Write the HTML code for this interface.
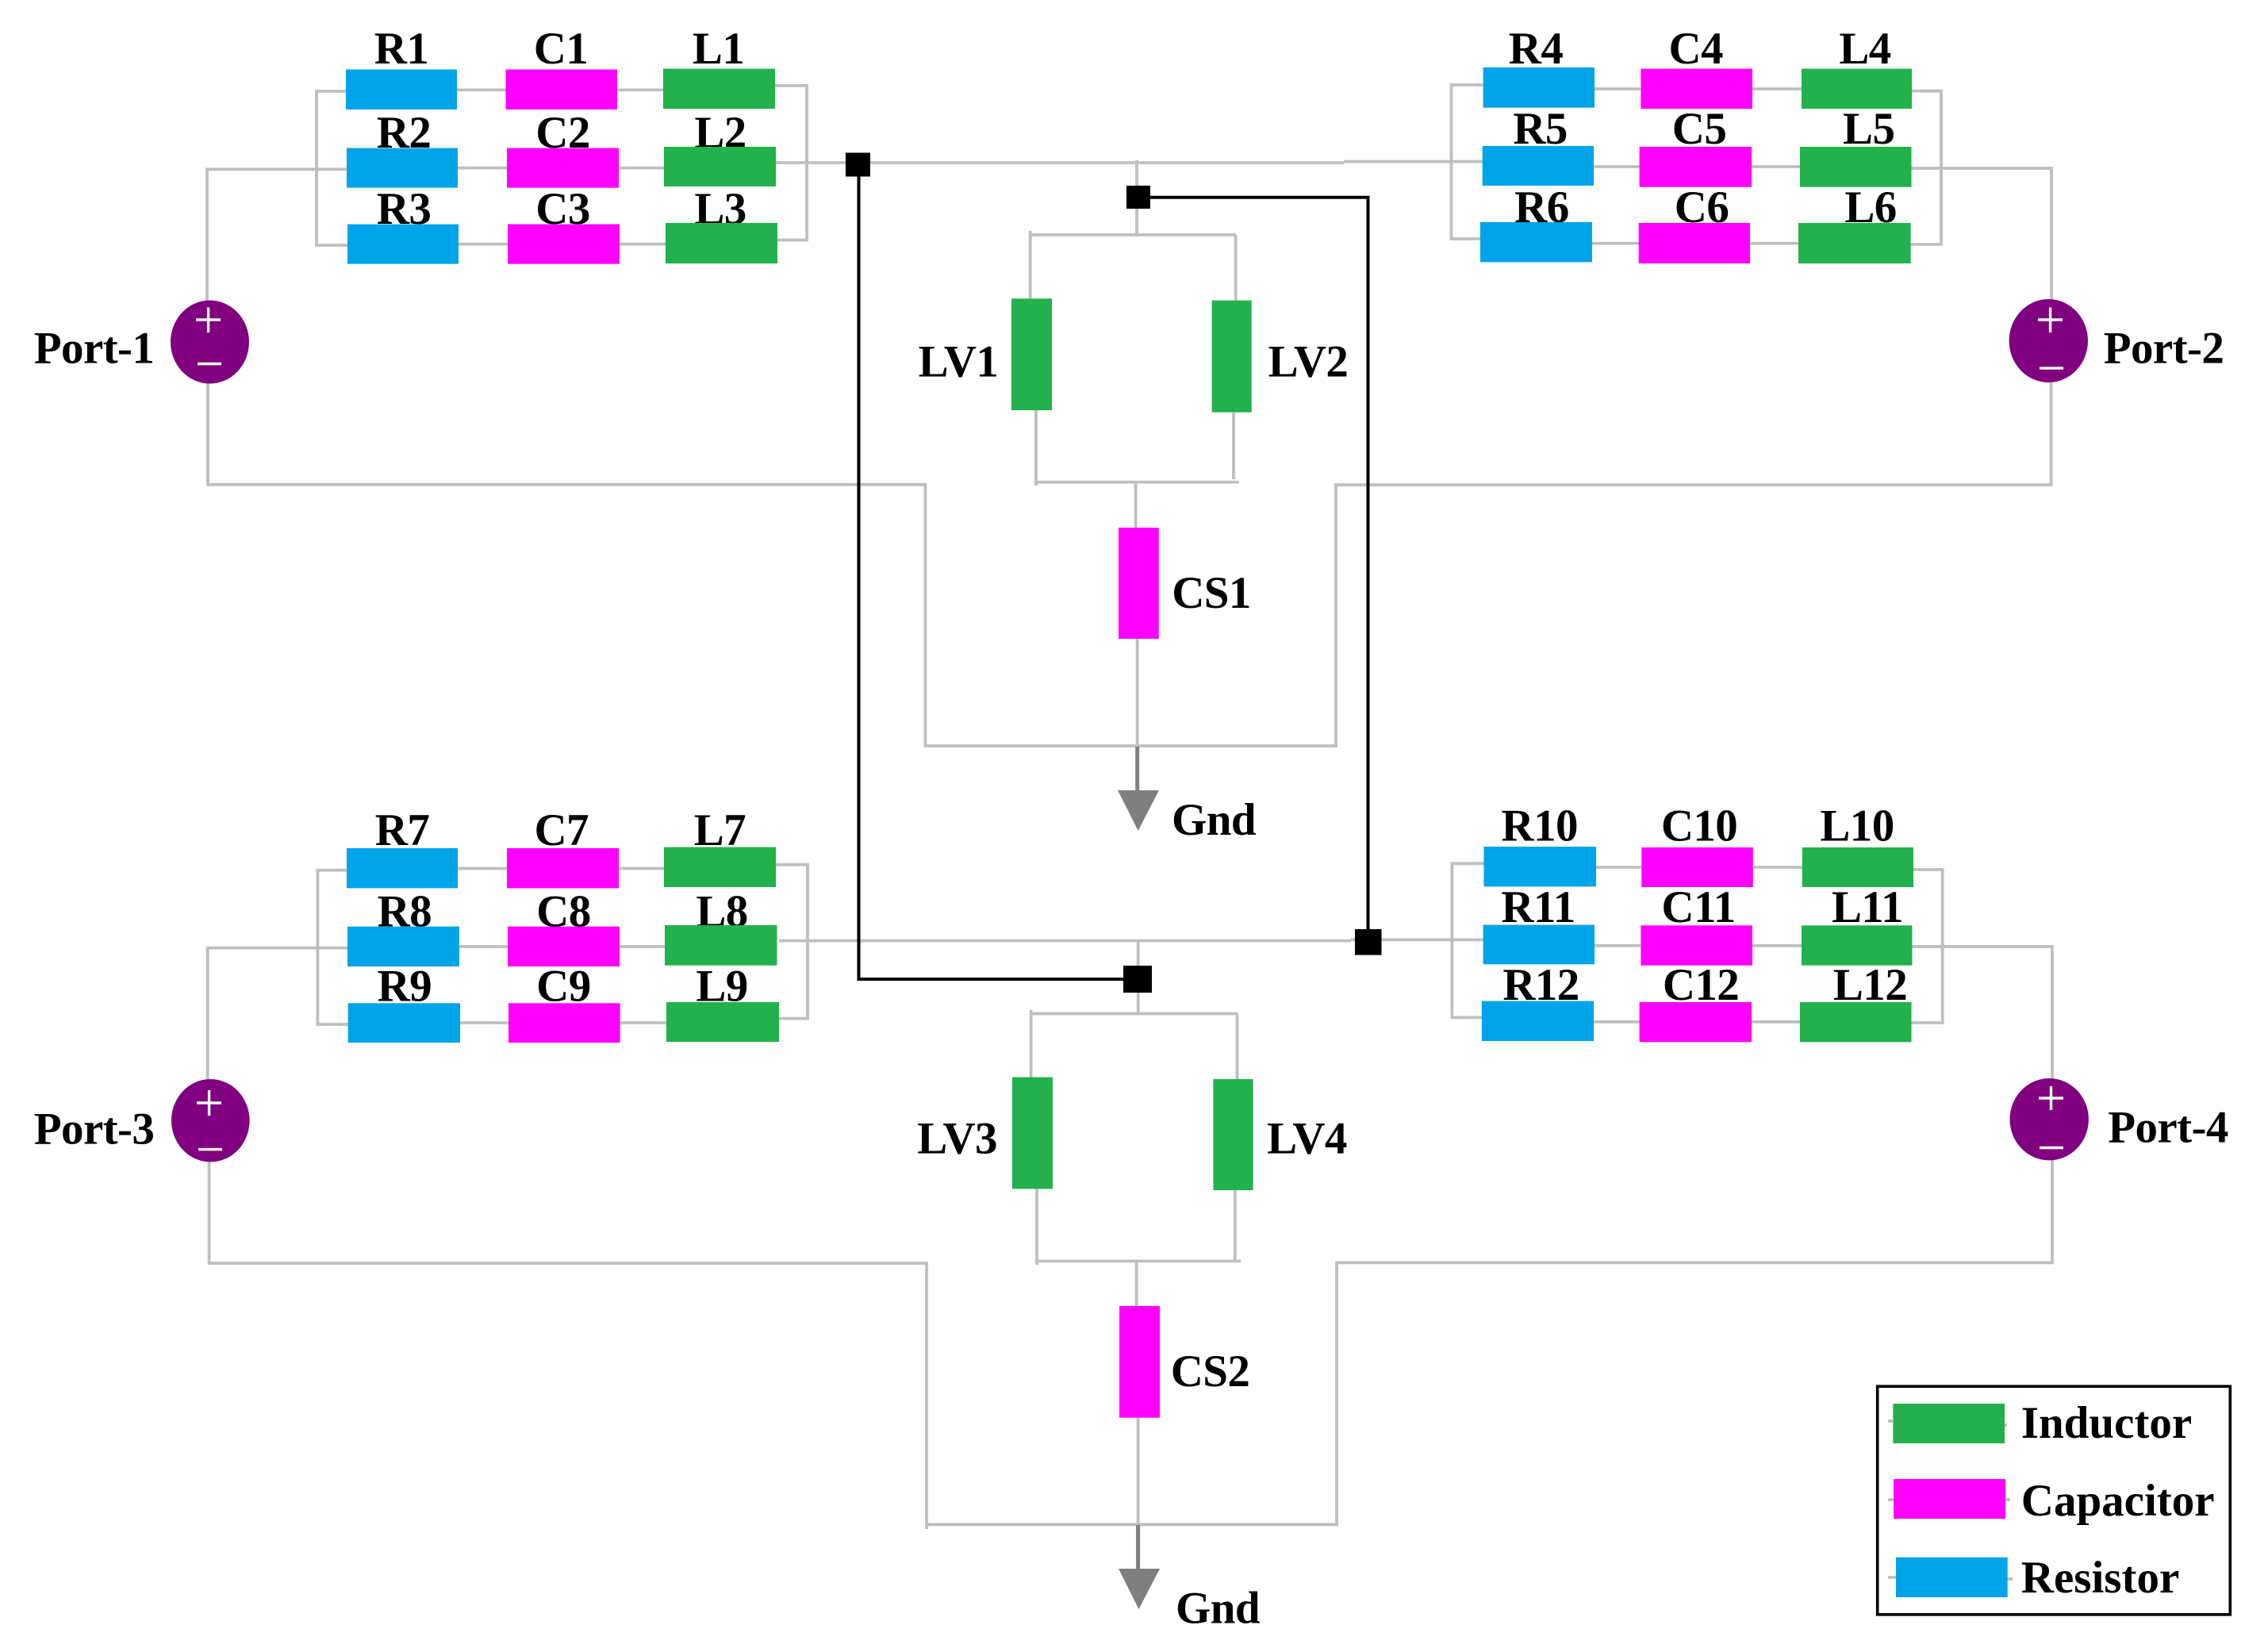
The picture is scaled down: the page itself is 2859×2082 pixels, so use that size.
<!DOCTYPE html>
<html>
<head>
<meta charset="utf-8">
<style>
html,body{margin:0;padding:0;background:#fff;width:2859px;height:2082px;overflow:hidden}
svg{display:block}
text{font-family:"Liberation Serif",serif;font-weight:bold;font-size:57px;letter-spacing:-0.6px;fill:#000;text-anchor:middle}
.leg{font-size:57px;letter-spacing:0;text-anchor:start}
.w{fill:none;stroke:#bfbfbf;stroke-width:3.8}
.k{fill:none;stroke:#000;stroke-width:4}
.r{fill:#00a4e8}.c{fill:#ff00ff}.l{fill:#22b14c}.p{fill:#800080}.s{fill:#000}
.pm{fill:none;stroke:#fff;stroke-width:3.4}
</style>
</head>
<body>
<svg width="2859" height="2082" viewBox="0 0 2859 2082" xmlns="http://www.w3.org/2000/svg">
<rect width="2859" height="2082" fill="#fff"/>

<!-- Wires: top-left block -->
<path class="w" d="M436 115H399V309H438M977 108H1017V302.5H980M576 113.4H638M778 113.4H836M577 211.6H639M780 211.6H837M578 307.6H640M781 307.6H839"/>
<path class="w" d="M437 213.4H261V379M262 483V610.7H1166.5V940H1686M1684 940V611H2585.5V482"/>
<path class="w" d="M978 205H1694M1694 203.6H1869"/>
<!-- Top-right block -->
<path class="w" d="M1870 107H1829.5V301H1866M2410 114.7H2447V308H2408M2010 112H2068M2209 112H2271M2009 210H2067M2208 210H2269M2007 306.7H2066M2206 306.7H2267"/>
<path class="w" d="M2409 212H2586V378"/>
<!-- Upper center -->
<path class="w" d="M1433 202V296M1298.7 291V296H1558M1298.7 296V376M1557.7 296V379M1306 517V612M1304 607.6H1562M1555 520V604M1431.6 607V665M1433.7 805V940"/>
<!-- Lower-left block -->
<path class="w" d="M437 1096.6H400.4V1291H439M978 1089.7H1018V1283.6H982M577 1094.5H639M780 1094.5H837M579 1193H640M781 1193H838M580 1289H641M781.6 1289H840"/>
<path class="w" d="M438 1194.6H261.7V1360M263.6 1464V1592H1168V1927M1168 1921.3H1687M1685 1921.3V1591.4H2587V1462"/>
<path class="w" d="M982 1185.6H1703M1703 1184.3H1870"/>
<!-- Lower-right block -->
<path class="w" d="M1870.5 1088.3H1830.4V1282.3H1868M2412 1096H2448.7V1289H2409.5M2012 1093H2069M2210 1093H2272M2010 1191.9H2068M2209 1191.9H2271M2009 1287.8H2067M2208 1287.8H2269"/>
<path class="w" d="M2410 1193H2587V1360"/>
<!-- Lower center -->
<path class="w" d="M1434.7 1184V1279M1299.6 1273V1277.5H1560M1299.6 1277.5V1358M1559.5 1277.5V1360M1307 1498V1594M1305 1589.4H1564M1556.8 1500V1589M1432.7 1589V1646M1434.6 1786V1921"/>

<!-- Labels -->
<text x="506" y="80">R1</text><text x="707" y="80">C1</text><text x="905.6" y="80">L1</text>
<text x="509" y="186">R2</text><text x="709.5" y="186">C2</text><text x="908" y="186">L2</text>
<text x="509" y="282">R3</text><text x="709.5" y="282">C3</text><text x="908" y="282">L3</text>
<text x="1936" y="80">R4</text><text x="2137.7" y="80">C4</text><text x="2351" y="80">L4</text>
<text x="1941.6" y="181">R5</text><text x="2142" y="181">C5</text><text x="2355.7" y="181">L5</text>
<text x="1943.4" y="280">R6</text><text x="2145" y="280">C6</text><text x="2358" y="280">L6</text>
<text x="507" y="1065">R7</text><text x="707.7" y="1065">C7</text><text x="907.4" y="1065">L7</text>
<text x="509.8" y="1167.7">R8</text><text x="710.4" y="1167.7">C8</text><text x="910" y="1167.7">L8</text>
<text x="509.8" y="1261.6">R9</text><text x="710.4" y="1261.6">C9</text><text x="910" y="1261.6">L9</text>
<text x="1940.7" y="1059.4">R10</text><text x="2142" y="1059.4">C10</text><text x="2341" y="1059.4">L10</text>
<text x="1939" y="1162">R11</text><text x="2141" y="1162">C11</text><text x="2354" y="1162">L11</text>
<text x="1942.5" y="1260">R12</text><text x="2144" y="1260">C12</text><text x="2357.5" y="1260">L12</text>
<text x="118.6" y="457.6">Port-1</text><text x="2727.5" y="457.6">Port-2</text>
<text x="118.6" y="1441.7">Port-3</text><text x="2733" y="1439.6">Port-4</text>
<text x="1208" y="474.5">LV1</text><text x="1649" y="474.5">LV2</text>
<text x="1206.6" y="1453.4">LV3</text><text x="1647.5" y="1453.4">LV4</text>
<text x="1527" y="766">CS1</text><text x="1525.5" y="1747">CS2</text>
<text x="1530" y="1052">Gnd</text><text x="1535" y="2045.6">Gnd</text>

<!-- Components: top-left -->
<rect class="r" x="436" y="87.5" width="140" height="50.5"/><rect class="c" x="637.5" y="87.5" width="140.5" height="50.5"/><rect class="l" x="836" y="86.6" width="141" height="50.5"/>
<rect class="r" x="437" y="186.6" width="140" height="50"/><rect class="c" x="639" y="186.6" width="141" height="50"/><rect class="l" x="837" y="185" width="141" height="50"/>
<rect class="r" x="438" y="282.6" width="140" height="50"/><rect class="c" x="640" y="282.6" width="141" height="50"/><rect class="l" x="839" y="281" width="141" height="51"/>
<!-- top-right -->
<rect class="r" x="1869.6" y="85" width="140.4" height="50.7"/><rect class="c" x="2068.4" y="86.6" width="140.6" height="50.4"/><rect class="l" x="2271" y="86.6" width="139" height="50.4"/>
<rect class="r" x="1868.7" y="184" width="140.3" height="50"/><rect class="c" x="2066.6" y="185" width="141.4" height="50.7"/><rect class="l" x="2269" y="185" width="140.5" height="50.7"/>
<rect class="r" x="1866" y="280" width="141" height="50.4"/><rect class="c" x="2065.7" y="281" width="140.3" height="51"/><rect class="l" x="2267" y="281" width="141.6" height="51"/>
<!-- lower-left -->
<rect class="r" x="437" y="1069" width="140" height="50.4"/><rect class="c" x="639" y="1069" width="141" height="50.4"/><rect class="l" x="837" y="1067.6" width="141" height="50.4"/>
<rect class="r" x="438" y="1167.7" width="141" height="50.3"/><rect class="c" x="640" y="1167.7" width="141" height="50.3"/><rect class="l" x="838" y="1166" width="141.5" height="50.7"/>
<rect class="r" x="438.7" y="1264.3" width="141.3" height="49.7"/><rect class="c" x="641" y="1264.3" width="140.6" height="49.7"/><rect class="l" x="840" y="1263" width="142" height="50"/>
<!-- lower-right -->
<rect class="r" x="1870.5" y="1067" width="141.5" height="50.3"/><rect class="c" x="2069.3" y="1068" width="140.5" height="50"/><rect class="l" x="2271.8" y="1068" width="140.2" height="50"/>
<rect class="r" x="1869.6" y="1165.6" width="140.4" height="49.7"/><rect class="c" x="2068.4" y="1166.3" width="140.6" height="50.4"/><rect class="l" x="2271" y="1166.3" width="139.4" height="50.4"/>
<rect class="r" x="1867.8" y="1261.6" width="141.2" height="50.4"/><rect class="c" x="2066.6" y="1263" width="141.4" height="50.3"/><rect class="l" x="2269" y="1263" width="140.5" height="50.3"/>
<!-- center -->
<rect class="l" x="1275" y="376.3" width="51" height="140.7"/><rect class="l" x="1527.6" y="378.6" width="50.1" height="141"/>
<rect class="c" x="1410" y="665" width="50.7" height="140"/>
<rect class="l" x="1276" y="1357.5" width="51" height="140.8"/><rect class="l" x="1529.4" y="1360" width="50.2" height="140"/>
<rect class="c" x="1411" y="1646" width="51" height="140.7"/>

<!-- Ground arrows -->
<path d="M1433.7 941V997" fill="none" stroke="#7f7f7f" stroke-width="5"/>
<polygon points="1409,996 1461,996 1434.7,1047" fill="#7f7f7f"/>
<path d="M1434.6 1922V1978" fill="none" stroke="#7f7f7f" stroke-width="5"/>
<polygon points="1410,1977 1462,1977 1435.5,2028" fill="#7f7f7f"/>

<!-- Ports -->
<ellipse class="p" cx="264.5" cy="431" rx="49.5" ry="52.5"/>
<path class="pm" d="M247 403H278M262.6 387.5V419M249 458.5H279"/>
<ellipse class="p" cx="2582.3" cy="429.5" rx="49.7" ry="52.5"/>
<path class="pm" d="M2569 403H2600M2584.6 387.5V419M2571 464H2601"/>
<ellipse class="p" cx="265.3" cy="1412.2" rx="49.3" ry="52.2"/>
<path class="pm" d="M248 1390H279M263.6 1374V1406M250 1448.6H280"/>
<ellipse class="p" cx="2583.2" cy="1410.7" rx="49.7" ry="51.7"/>
<path class="pm" d="M2570 1384H2601M2585.5 1369V1399M2571 1446.5H2601"/>

<!-- Black links -->
<path class="k" d="M1082.5 222V1234M1080.5 1234H1417M1450 248.7H1726M1724.5 247V1172"/>
<rect class="s" x="1066" y="192.5" width="31" height="30"/>
<rect class="s" x="1420" y="234" width="30" height="29"/>
<rect class="s" x="1416" y="1217" width="36" height="34"/>
<rect class="s" x="1708" y="1171" width="33.5" height="32.6"/>

<!-- Legend -->
<rect x="2366.7" y="1747.2" width="444.6" height="287.6" fill="#fff" stroke="#000" stroke-width="3.6"/>
<path class="w" d="M2380 1791H2386M2525 1796H2530M2380 1890H2388M2526 1890H2534M2380 1988H2390M2530 1990H2537"/>
<rect class="l" x="2386.3" y="1769" width="140.7" height="50"/>
<rect class="c" x="2387" y="1864" width="141" height="50"/>
<rect class="r" x="2390" y="1962.7" width="140.7" height="50.3"/>
<text class="leg" x="2547.8" y="1812">Inductor</text>
<text class="leg" x="2547.8" y="1910">Capacitor</text>
<text class="leg" x="2547.8" y="2007">Resistor</text>
</svg>
</body>
</html>
